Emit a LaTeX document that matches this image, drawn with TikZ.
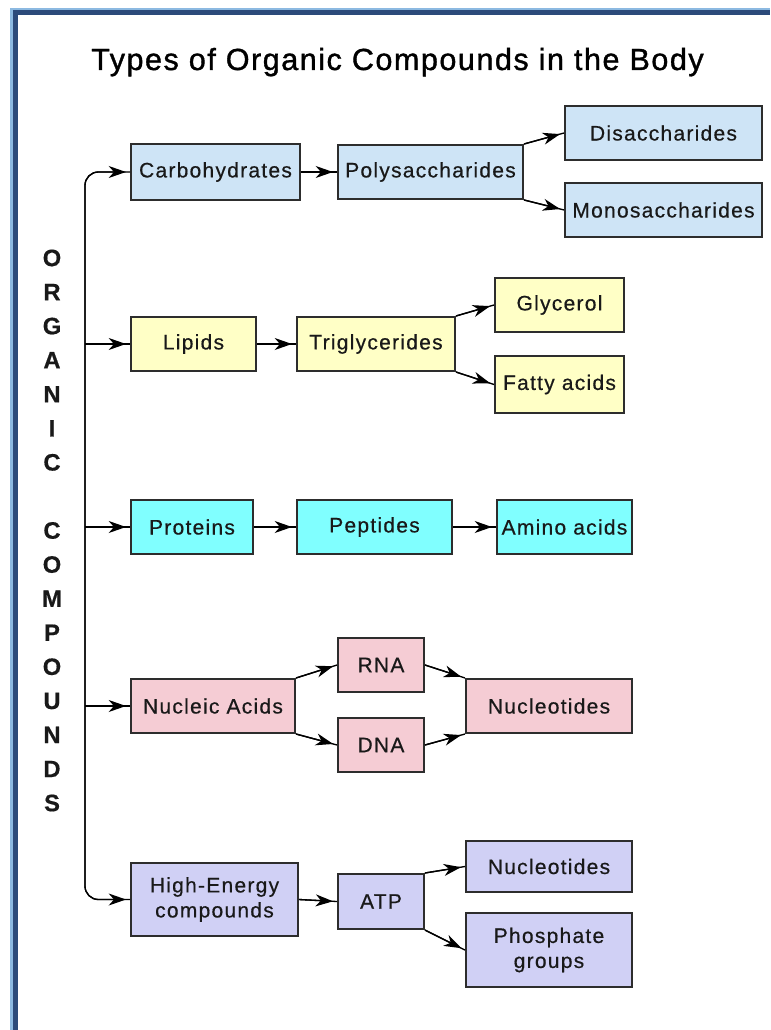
\documentclass[tikz,border=0pt]{standalone}
\usepackage{fontspec}
\setmainfont{Liberation Sans}[LetterSpace=6,FakeBold=0.5]
\newfontfamily\titlefont{Liberation Sans}[LetterSpace=5,FakeBold=1.2]
\usetikzlibrary{arrows.meta}
\definecolor{cblue}{RGB}{206,228,246}
\definecolor{cyel}{RGB}{255,255,198}
\definecolor{ccyan}{RGB}{128,255,255}
\definecolor{cpink}{RGB}{245,204,212}
\definecolor{clav}{RGB}{208,208,245}
\definecolor{bordlight}{RGB}{140,185,225}
\definecolor{borddark}{RGB}{44,74,122}
\definecolor{boxline}{RGB}{45,45,45}
\definecolor{txt}{RGB}{25,25,25}
\begin{document}
\begin{tikzpicture}[x=0.75pt,y=-0.75pt,
  box/.style={draw=boxline, line width=1.5pt, inner sep=0pt, align=center,
    font=\fontsize{15.75}{18.75}\selectfont, text=txt},
  bbox/.style={box, fill=cblue},
  ybox/.style={box, fill=cyel},
  cbox/.style={box, fill=ccyan},
  pbox/.style={box, fill=cpink},
  lbox/.style={box, fill=clav},
  conn/.style={draw=black, line width=1pt},
  arr/.style={conn, postaction={draw=black, line width=1pt,
    -{Stealth[length=13pt,width=9pt,inset=4pt]}, shorten >=3pt}},
  trunk/.style={conn, rounded corners=10pt, postaction={draw=black, line width=1pt,
    {Stealth[length=13pt,width=9pt,inset=4pt]}-{Stealth[length=13pt,width=9pt,inset=4pt]},
    shorten >=3pt, shorten <=3pt}}
]
\useasboundingbox (0,0) rectangle (770,1030);
\fill[white] (0,0) rectangle (770,1030);
% frame stripes
\fill[bordlight] (10,8) rectangle (770,15);
\fill[bordlight] (10,8) rectangle (18,1030);
\fill[borddark] (12.8,10.5) rectangle (770,15);
\fill[borddark] (12.8,10.5) rectangle (18,1030);

% title
\node[font=\titlefont\fontsize{22.9}{27}\selectfont, anchor=base, inner sep=0pt, text=black] (title) at (397.5,70) {Types of Organic Compounds in the Body};

% vertical label
\node[font=\bfseries\fontsize{17.8}{25.55}\selectfont, align=center, inner sep=0pt, text=txt] (vt) at (52,530.5)
  {O\\R\\G\\A\\N\\I\\C\\[25.55pt]C\\O\\M\\P\\O\\U\\N\\D\\S};

% row 1
\node[bbox, minimum width=126.75pt, minimum height=42pt]  (carb)  at (215.5,172) {Carbohydrates};
\node[bbox, minimum width=138.75pt, minimum height=40.5pt] (poly)  at (430.5,172) {Polysaccharides};
\node[bbox, minimum width=147.75pt, minimum height=40.5pt] (disa)  at (663.5,133) {Disaccharides};
\node[bbox, minimum width=147.75pt, minimum height=40.5pt] (mono)  at (663.5,210) {Monosaccharides};
% row 2
\node[ybox, minimum width=93.75pt, minimum height=40.5pt]  (lip)   at (193.5,344) {Lipids};
\node[ybox, minimum width=118.5pt, minimum height=40.5pt]  (trig)  at (376,344) {Triglycerides};
\node[ybox, minimum width=96.75pt, minimum height=40.5pt]  (glyc)  at (559.5,305) {Glycerol};
\node[ybox, minimum width=96.75pt, minimum height=42.75pt] (fatty) at (559.5,384.5) {Fatty acids};
% row 3
\node[cbox, minimum width=91.5pt, minimum height=40.5pt]   (prot)  at (192,527) {Proteins};
\node[cbox, minimum width=116.25pt, minimum height=40.5pt] (pept)  at (374.5,527) {Peptides};
\node[cbox, minimum width=101.25pt, minimum height=40.5pt] (amino) at (564.5,527) {Amino acids};
% row 4
\node[pbox, minimum width=123pt, minimum height=40.5pt]    (nuc)   at (213,706) {Nucleic Acids};
\node[pbox, minimum width=64.5pt, minimum height=40.5pt]   (rna)   at (381,665) {RNA};
\node[pbox, minimum width=64.5pt, minimum height=40.5pt]   (dna)   at (381,745) {DNA};
\node[pbox, minimum width=124.5pt, minimum height=40.5pt]  (nucl)  at (549,706) {Nucleotides};
% row 5
\node[lbox, minimum width=125.25pt, minimum height=54.75pt] (he)   at (214.5,899.5) {High-Energy\\compounds};
\node[lbox, minimum width=64.5pt, minimum height=41.25pt]  (atp)   at (381,901.5) {ATP};
\node[lbox, minimum width=124.5pt, minimum height=38.25pt] (nucl2) at (549,866.5) {Nucleotides};
\node[lbox, minimum width=124.5pt, minimum height=55.5pt]  (phos)  at (549,950) {Phosphate\\groups};

% trunk
\coordinate (tt) at (85,172);
\coordinate (tb) at (85,899.5);
\draw[trunk] (carb.west) -- (carb.west -| tt) -- (he.west -| tb) -- (he.west);
\draw[arr] (lip.west -| tt) -- (lip.west);
\draw[arr] (prot.west -| tt) -- (prot.west);
\draw[arr] (nuc.west -| tt) -- (nuc.west);

% row connectors
\draw[arr] (carb.east) -- (poly.west);
\draw[arr] (poly.north east) -- (disa.west);
\draw[arr] (poly.south east) -- (mono.west);

\draw[arr] (lip.east) -- (trig.west);
\draw[arr] (trig.north east) -- (glyc.west);
\draw[arr] (trig.south east) -- (fatty.west);

\draw[arr] (prot.east) -- (pept.west);
\draw[arr] (pept.east) -- (amino.west);

\draw[arr] (nuc.north east) -- (rna.west);
\draw[arr] (nuc.south east) -- (dna.west);
\draw[arr] (rna.east) -- (nucl.north west);
\draw[arr] (dna.east) -- (nucl.south west);

\draw[arr] (he.east) -- (atp.west);
\draw[arr] (atp.north east) -- (nucl2.west);
\draw[arr] (atp.south east) -- (phos.west);
\end{tikzpicture}
\end{document}
